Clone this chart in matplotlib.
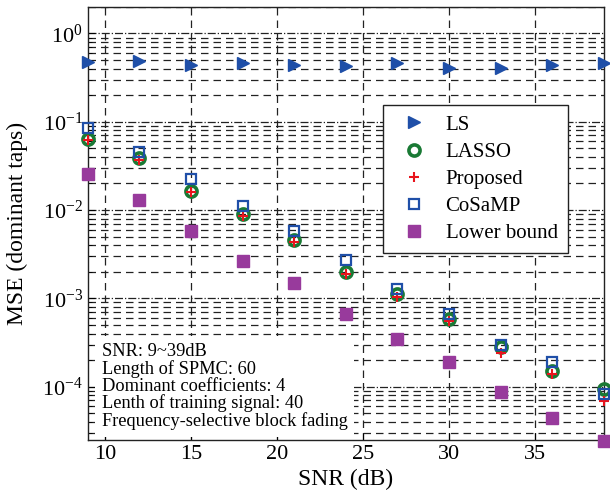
import matplotlib
matplotlib.use('Agg')
import matplotlib.pyplot as plt
import numpy as np
from matplotlib.ticker import LogLocator, FixedLocator, FuncFormatter, NullFormatter

plt.rcParams['font.family'] = ['Liberation Serif', 'DejaVu Serif']
plt.rcParams['mathtext.fontset'] = 'custom'
plt.rcParams['mathtext.rm'] = 'Liberation Serif'
plt.rcParams['mathtext.it'] = 'Liberation Serif'

# data
snr = [9, 12, 15, 18, 21, 24, 27, 30, 33, 36, 39]
mse_ls = [0.47, 0.49, 0.44, 0.46, 0.44, 0.43, 0.46, 0.41, 0.41, 0.44, 0.46]
mse_lasso = [0.064, 0.039, 0.0164, 0.0090, 0.0046, 0.0020, 0.00111, 5.8e-4, 2.8e-4, 1.52e-4, 9.3e-5]
mse_proposed = [0.062, 0.037, 0.016, 0.0085, 0.0044, 0.0019, 0.00103, 5.6e-4, 2.4e-4, 1.4e-4, 6.8e-5]
mse_cosamp = [0.0855, 0.0457, 0.0225, 0.0112, 0.0058, 0.0027, 0.00127, 6.6e-4, 2.94e-4, 1.88e-4, 8.3e-5]
mse_bound = [0.0257, 0.0130, 0.0058, 0.00263, 0.00148, 6.6e-4, 3.5e-4, 1.9e-4, 8.7e-5, 4.4e-5, 2.4e-5]

x_ticks = [10, 15, 20, 25, 30, 35]
info_lines = ['SNR: 9~39dB',
              'Length of SPMC: 60',
              'Dominant coefficients: 4',
              'Lenth of training signal: 40',
              'Frequency-selective block fading']

fig = plt.figure(figsize=(6.1, 4.92), dpi=100)
ax = fig.add_axes([0.144, 0.106, 0.846, 0.880])

ax.semilogy(snr, mse_ls, linestyle='none', marker='>', ms=9, color='#1f4fa8',
            clip_on=False, label='LS', zorder=3)
ax.semilogy(snr, mse_lasso, linestyle='none', marker='o', ms=8, mfc='none',
            mec='#1a7a35', mew=2.6, clip_on=False, label='LASSO', zorder=3)
ax.semilogy(snr, mse_proposed, linestyle='none', marker='+', ms=7, color='#e8141c',
            mew=1.5, clip_on=False, label='Proposed', zorder=4)
ax.semilogy(snr, mse_cosamp, linestyle='none', marker='s', ms=7.5, mfc='none',
            mec='#1f4fa8', mew=1.6, clip_on=False, label='CoSaMP', zorder=4)
ax.semilogy(snr, mse_bound, linestyle='none', marker='s', ms=8, color='#983a9c',
            clip_on=False, label='Lower bound', zorder=3)

ax.set_xlim(9, 39)
ax.set_ylim(2.5e-5, 2)
ax.xaxis.set_major_locator(FixedLocator(x_ticks))
ax.yaxis.set_major_locator(LogLocator(base=10, numticks=10))
ax.yaxis.set_minor_locator(LogLocator(base=10, subs=np.arange(2, 10), numticks=20))
ax.yaxis.set_minor_formatter(NullFormatter())
ax.yaxis.set_major_formatter(FuncFormatter(lambda v, p: r'$10^{%d}$' % round(np.log10(v))))

ax.grid(True, which='major', axis='x', linestyle=(0, (6, 4)), color='#222222', lw=0.9)
ax.grid(True, which='major', axis='y', linestyle='-.', color='#222222', lw=0.9)
ax.grid(True, which='minor', axis='y', linestyle=(0, (6, 4)), color='#222222', lw=0.9)
ax.set_axisbelow(True)

ax.tick_params(which='both', direction='in', labelsize=16)
ax.tick_params(which='major', length=5)
ax.tick_params(which='minor', length=3)
for s in ax.spines.values():
    s.set_linewidth(1.0)
    s.set_color('#222222')

ax.set_xlabel('SNR (dB)', fontsize=17, labelpad=4)
ax.set_ylabel('MSE (dominant taps)', fontsize=17, labelpad=10)

leg = ax.legend(loc='upper left', bbox_to_anchor=(0.572, 0.774), borderaxespad=0,
                fontsize=15, frameon=True, fancybox=False, framealpha=1,
                edgecolor='#222222', borderpad=0.5, labelspacing=0.36,
                handlelength=2.0, handletextpad=0.5)
leg.get_frame().set_linewidth(1.0)

ax.text(0.027, 0.022, '\n'.join(info_lines), transform=ax.transAxes, fontsize=13.2,
        linespacing=1.0, va='bottom', ha='left', zorder=2,
        bbox=dict(boxstyle='square,pad=0.35', fc='white', ec='none'))

fig.savefig('out.png', dpi=100)
